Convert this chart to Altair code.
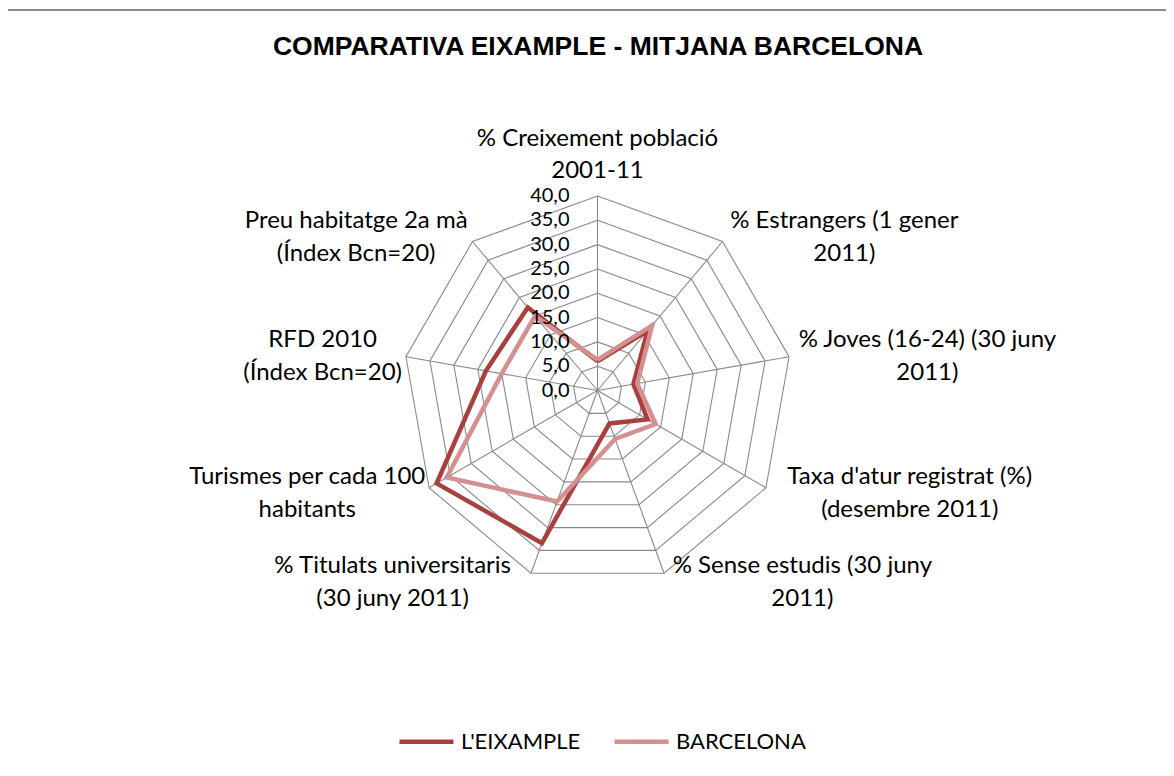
import altair as alt
import pandas as pd

# ---------------- data ----------------
categories = [
    "% Creixement població\n2001-11",
    "% Estrangers (1 gener\n2011)",
    "% Joves (16-24) (30 juny\n2011)",
    "Taxa d'atur registrat (%)\n(desembre 2011)",
    "% Sense estudis (30 juny\n2011)",
    "% Titulats universitaris\n(30 juny 2011)",
    "Turismes per cada 100\nhabitants",
    "RFD 2010\n(Índex Bcn=20)",
    "Preu habitatge 2a mà\n(Índex Bcn=20)",
]
eixample = [6.0, 16.0, 7.5, 11.9, 7.2, 33.4, 38.2, 23.3, 22.3]
barcelona = [6.3, 17.5, 8.3, 13.8, 10.6, 24.3, 35.8, 20.0, 20.0]
series_names = ["L'EIXAMPLE", "BARCELONA"]
series_colors = ["#A9403E", "#D4908E"]
ring_values = [5, 10, 15, 20, 25, 30, 35, 40]
tick_values = [0, 5, 10, 15, 20, 25, 30, 35, 40]
tick_labels = ["0,0", "5,0", "10,0", "15,0", "20,0", "25,0", "30,0", "35,0", "40,0"]
title_text = "COMPARATIVA EIXAMPLE - MITJANA BARCELONA"

N = len(categories)
RMAX = 40

# ---------------- tables ----------------
rows = []
for name, vals in zip(series_names, [eixample, barcelona]):
    for k in range(N + 1):
        rows.append({"series": name, "k": k, "v": vals[k % N]})
series_df = pd.DataFrame(rows)

grid_df = pd.DataFrame([{"ring": r, "k": k, "v": r} for r in ring_values for k in range(N + 1)])
spoke_df = pd.DataFrame([{"k": k, "v": RMAX} for k in range(N)])
label_df = pd.DataFrame([{"k": k, "label": c} for k, c in enumerate(categories)])
tick_df = pd.DataFrame({"v": tick_values, "label": tick_labels})
one_df = pd.DataFrame({"a": [0]})

# ---------------- geometry ----------------
W, H = 1152, 760
PX = 194.5 / RMAX  # pixels per unit
CX, CY = 583.5, 382.5  # centre in view pixels
xscale = alt.Scale(domain=[-CX / PX, (W - CX) / PX], nice=False, zero=False)
yscale = alt.Scale(domain=[-(H - CY) / PX, CY / PX], nice=False, zero=False)

FONT = "Lato"
FS = 24

ang = f"datum.k * 2 * PI / {N}"


def polar(ch):
    return ch.transform_calculate(
        a=ang
    ).transform_calculate(
        px="datum.v * sin(datum.a)", py="datum.v * cos(datum.a)"
    )


X = alt.X("px:Q", scale=xscale, axis=None)
Y = alt.Y("py:Q", scale=yscale, axis=None)

grid = polar(alt.Chart(grid_df).mark_line(color="#8A8A8A", strokeWidth=1.1)).encode(
    x=X, y=Y, detail="ring:N", order="k:Q"
)

spokes = polar(alt.Chart(spoke_df).mark_rule(color="#8A8A8A", strokeWidth=1.1)).encode(
    x=alt.X("zx:Q", scale=xscale, axis=None),
    y=alt.Y("zy:Q", scale=yscale, axis=None),
    x2="px:Q",
    y2="py:Q",
).transform_calculate(zx="0", zy="0")

color = alt.Color(
    "series:N",
    scale=alt.Scale(domain=series_names, range=series_colors),
    legend=alt.Legend(
        title=None,
        orient="none",
        legendX=383,
        legendY=704,
        direction="horizontal",
        symbolType="stroke",
        symbolSize=2916,
        symbolStrokeWidth=4.5,
        labelFont=FONT,
        labelFontSize=22,
        labelColor="black",
        labelOffset=5,
        columnPadding=24,
    ),
)

lines = []
for name in series_names:
    lines.append(
        polar(
            alt.Chart(series_df).transform_filter(alt.datum.series == name)
            .mark_line(strokeWidth=4.5, strokeJoin="miter", strokeCap="butt")
        ).encode(x=X, y=Y, order="k:Q", color=color)
    )

ticks = alt.Chart(tick_df).transform_calculate(px="0", py="datum.v").mark_text(
    align="right", baseline="middle", dx=-28, font=FONT, fontSize=20, color="black"
).encode(x=X, y=Y, text="label:N")

top_label = polar(
    alt.Chart(label_df).transform_filter("datum.k == 0").transform_calculate(v=str(RMAX))
    .mark_text(align="center", baseline="bottom", dy=-45, lineBreak="\n", lineHeight=32,
               font=FONT, fontSize=FS, color="black")
).encode(x=X, y=Y, text="label:N")

side_labels = (
    alt.Chart(label_df)
    .transform_filter("datum.k > 0")
    .transform_calculate(a=ang)
    .transform_calculate(
        hw="max(length(split(datum.label, '\\n')[0]), length(split(datum.label, '\\n')[1])) * 5.5 / " + str(PX)
    )
    .transform_calculate(
        px=f"{RMAX} * sin(datum.a) + (sin(datum.a) > 0 ? 1 : -1) * (1.3 + datum.hw)",
        py=f"{RMAX + 1.6} * cos(datum.a)",
    )
    .mark_text(align="center", baseline="middle", dy=-15, lineBreak="\n", lineHeight=33,
               font=FONT, fontSize=FS, color="black")
    .encode(x=X, y=Y, text="label:N")
)

frame_left = alt.Chart(one_df).mark_rule(color="#8C8C8C", strokeWidth=2).encode(
    x=alt.value(-11), y=alt.value(2), y2=alt.value(H)
)
frame_top = alt.Chart(one_df).mark_rule(color="#8C8C8C", strokeWidth=2).encode(
    x=alt.value(-11), x2=alt.value(W), y=alt.value(2)
)

chart = (
    alt.layer(frame_left, frame_top, grid, spokes, *lines, ticks, top_label, side_labels)
    .properties(
        width=W,
        height=H,
        padding={"left": 6, "top": 0, "right": 0, "bottom": 0},
        autosize=alt.AutoSizeParams(type="none"),
        title=alt.TitleParams(
            text=title_text,
            font="Liberation Sans",
            fontSize=26.5,
            fontWeight="bold",
            color="black",
            anchor="middle",
            frame="group",
            baseline="middle",
            offset=-39,
            dx=8,
            dy=26,
        ),
    )
    .configure_view(stroke=None)
)

chart.save("out.html", embed_options={"renderer": "svg", "actions": False})
